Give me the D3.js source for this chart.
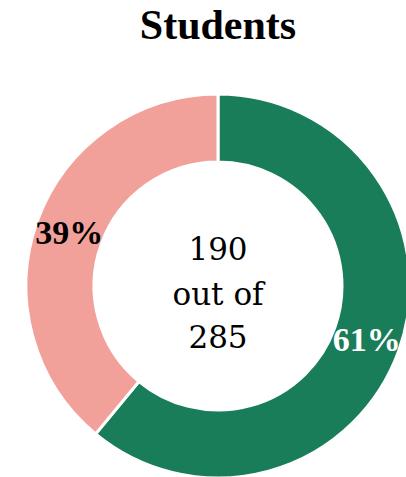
<!DOCTYPE html>
<html>
<head>
<meta charset="utf-8">
<script src="https://cdn.jsdelivr.net/npm/d3@7"></script>
<style>
  body { margin: 0; background: #fff; }
</style>
</head>
<body>
<div id="chart"></div>
<script>
// slices, clockwise from 12 o'clock
var categories = ['Yes', 'No'];
var values = [61, 39];
var labels = ['61%', '39%'];
var centerLines = ['190', 'out of', '285'];
var title = 'Students';

var fillcolors = ['#1a7d5a', '#f2a19a'];
var labelcolors = ['#ffffff', '#000000'];

var width = 406,
  height = 477;
var cx = 218,
  cy = 286,
  outerR = 192,
  innerR = 124;

var svg = d3.select('#chart').append('svg')
  .attr('width', width)
  .attr('height', height);

svg.append('text')
  .attr('x', cx)
  .attr('y', 39)
  .attr('text-anchor', 'middle')
  .style('font-family', '"Liberation Serif", serif')
  .style('font-weight', 'bold')
  .style('font-size', '42px')
  .text(title);

var pie = d3.pie().sort(null).value(function(d) { return d; });
var arc = d3.arc().innerRadius(innerR).outerRadius(outerR);
var labelArc = d3.arc().innerRadius((innerR + outerR) / 2).outerRadius((innerR + outerR) / 2);

var g = svg.append('g').attr('transform', 'translate(' + cx + ',' + cy + ')');
var slices = pie(values);

g.selectAll('path')
  .data(slices)
  .enter().append('path')
  .attr('d', arc)
  .style('fill', function(d, i) { return fillcolors[i]; })
  .style('stroke', '#fff')
  .style('stroke-width', 3);

g.selectAll('text.pct')
  .data(slices)
  .enter().append('text')
  .attr('class', 'pct')
  .attr('transform', function(d) { return 'translate(' + labelArc.centroid(d) + ')'; })
  .attr('dy', '0.35em')
  .attr('text-anchor', 'middle')
  .style('font-family', '"Liberation Serif", serif')
  .style('font-weight', 'bold')
  .style('font-size', '34px')
  .style('fill', function(d, i) { return labelcolors[i]; })
  .text(function(d, i) { return labels[i]; });

// center text, baselines
var lineY = [-26, 19, 62];
g.selectAll('text.mid')
  .data(centerLines)
  .enter().append('text')
  .attr('class', 'mid')
  .attr('x', 0)
  .attr('y', function(d, i) { return lineY[i]; })
  .attr('text-anchor', 'middle')
  .style('font-family', '"DejaVu Serif", serif')
  .style('font-size', '31px')
  .text(function(d) { return d; });
</script>
</body>
</html>
